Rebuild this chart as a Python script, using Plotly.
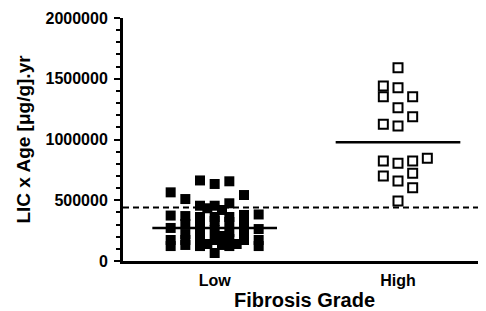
import numpy as np
import plotly.graph_objects as go

categories = ["Low", "High"]

low_values = [663000, 634000, 656000, 565000, 543000, 510000, 455000, 455000, 475000, 434000, 420000,
              374000, 370000, 362000, 362000, 362000, 379000, 383000,
              305000, 321000, 329000, 321000, 305000,
              272000, 239000, 255000, 239000, 255000, 263000,
              222000, 206000,
              173000, 173000, 181000, 173000, 181000, 173000, 173000,
              132000, 140000, 132000, 140000,
              123000, 123000, 123000, 123000,
              66000]
low_cols = [-1, 0, 1, -3, 2, -2, -1, 0, 1, -0.5, 0.5,
            -3, -2, -1, 0, 1, 2, 3,
            -2, -1, 0, 1, 2,
            -3, -1, 0, 1, 2, 3,
            -2, 0.5,
            -3, -2, -1, 0, 1, 2, 3,
            -2, -0.5, 0.5, 1.5,
            -3, 3, -1, 1,
            0]

high_values = [1590000, 1440000, 1426000, 1352000, 1352000, 1262000, 1188000, 1125000, 1111000,
               845000, 823000, 823000, 804000, 722000, 700000, 658000, 603000, 494000]
high_cols = [0, -1, 0, -1, 1, 0, 1, -1, 0,
             2, -1, 1, 0, 1, -1, 0, 1, 0]

threshold = 440000

y_ticks = [0, 500000, 1000000, 1500000, 2000000]

col_step = 0.08
half_w = 0.34

low_x = [1 + c * col_step for c in low_cols]
high_x = [2 + c * col_step for c in high_cols]
medians = [float(np.median(low_values)), float(np.median(high_values))]

fig = go.Figure()
fig.add_trace(go.Scatter(x=low_x, y=low_values, mode="markers",
                         marker=dict(symbol="square", size=10, color="black", line=dict(width=0)),
                         showlegend=False, cliponaxis=False))
fig.add_trace(go.Scatter(x=high_x, y=high_values, mode="markers",
                         marker=dict(symbol="square-open", size=9, color="black", line=dict(width=2)),
                         showlegend=False, cliponaxis=False))
for i, m in enumerate(medians):
    fig.add_trace(go.Scatter(x=[i + 1 - half_w, i + 1 + half_w], y=[m, m], mode="lines",
                             line=dict(color="black", width=2.5), showlegend=False))
fig.add_trace(go.Scatter(x=[0.5, 2.48], y=[threshold, threshold], mode="lines",
                         line=dict(color="black", width=2, dash="6px,4px"), showlegend=False))

font_family = "Liberation Sans, Arial, sans-serif"
fig.update_layout(
    width=478, height=303,
    margin=dict(l=115, r=0, t=10, b=50),
    paper_bgcolor="white", plot_bgcolor="white",
    font=dict(family=font_family, color="black"),
    xaxis=dict(range=[0.5, 2.48], tickvals=[1, 2], ticktext=categories,
               showline=True, linewidth=3, linecolor="black", ticks="",
               showgrid=False, zeroline=False, automargin=False,
               ticklabelstandoff=3,
               tickfont=dict(size=16, weight="bold"),
               title=dict(text="Fibrosis Grade", font=dict(size=20, weight="bold"), standoff=10)),
    yaxis=dict(range=[0, 2000000], tickvals=y_ticks, tickformat="d",
               showline=True, linewidth=3, linecolor="black",
               ticks="outside", ticklen=6, tickwidth=2, tickcolor="black",
               minor=dict(dtick=100000, ticks="outside", ticklen=4, tickwidth=2, tickcolor="black", showgrid=False),
               showgrid=False, zeroline=False, automargin=False,
               ticklabelstandoff=3,
               tickfont=dict(size=16, weight="bold"),
               title=dict(text="LIC x Age [μg/g].yr", font=dict(size=19, weight="bold"), standoff=10)),
)

fig.write_html("out.html")
